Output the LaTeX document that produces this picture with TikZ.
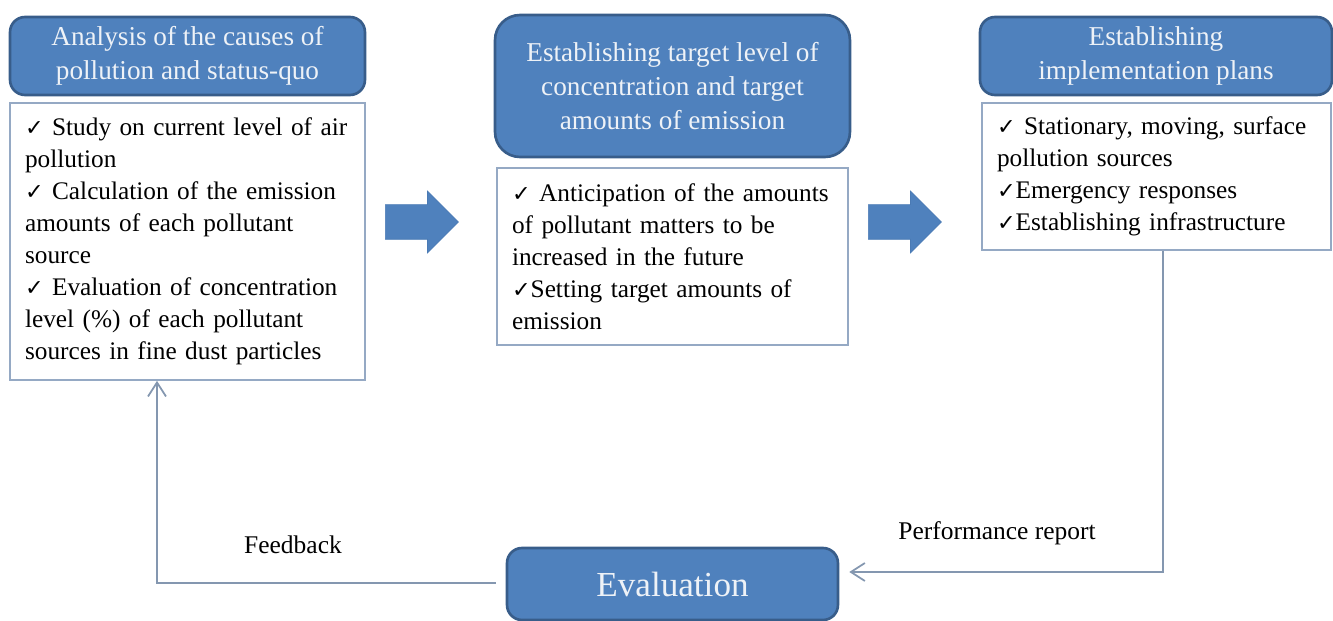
\documentclass[tikz,border=0pt]{standalone}
\usepackage{fontspec}
\setmainfont{Liberation Serif}
\newfontfamily\TickFont{DejaVu Sans}[Scale=0.88]
\usetikzlibrary{shapes.arrows, arrows.meta}
\definecolor{OfficeBlue}{HTML}{4F81BD}
\definecolor{HeadBorder}{HTML}{385D8A}
\definecolor{HeadText}{HTML}{EEF2F7}
\definecolor{ArrowBorder}{HTML}{4A7AB4}
\definecolor{BoxBorder}{HTML}{95A9C4}
\definecolor{LinkGray}{HTML}{8497B0}
\NewDocumentCommand{\Tick}{}{{\TickFont ✓}}

\begin{document}
\begin{tikzpicture}[
    x=0.02cm, y=-0.02cm,% one unit is one pixel of the layout
    >={Straight Barb[length=0.28cm, width=0.36cm]},
    header/.style={draw=HeadBorder, line width=1.5pt, fill=OfficeBlue, rounded corners=0.3cm,
        text=HeadText, align=center, font=\fontsize{15.5}{19.5}\selectfont, inner sep=0pt},
    bodybox/.style={draw=BoxBorder, line width=1pt, fill=white, align=left,
        font=\fontsize{14.4}{18.2}\selectfont, inner xsep=0.3cm, inner ysep=0pt},
    blockarrow/.style={single arrow, fill=OfficeBlue, draw=ArrowBorder, inner xsep=0pt, inner ysep=0.34cm,
        single arrow head extend=0.27cm, minimum height=1.46cm, anchor=west},
    link/.style={draw=LinkGray, line width=1pt},
    label/.style={font=\fontsize{14.5}{17}\selectfont},
    ]
    \useasboundingbox (0,0) rectangle (1333,621);

    % top row
    \node[header, minimum width=7.1cm, minimum height=1.56cm] (analysis) at (187.5,56)
        {Analysis of the causes of\\pollution and status-quo};
    \node[bodybox, text width=6.5cm, minimum height=5.54cm] (analysisbody) at (187.5,241.5)
        {\Tick{} Study on current level of air\\pollution\\
         \Tick{} Calculation of the emission\\amounts of each pollutant\\source\\
         \Tick{} Evaluation of concentration\\level (\%) of each pollutant\\sources in fine dust particles};

    \node[header, rounded corners=0.5cm, minimum width=7.1cm, minimum height=2.84cm] (target) at (672.5,86)
        {Establishing target level of\\concentration and target\\amounts of emission};
    \node[bodybox, text width=6.42cm, minimum height=3.54cm] (targetbody) at (672.5,256.5)
        {\Tick{} Anticipation of the amounts\\of pollutant matters to be\\increased in the future\\
         \Tick{}Setting target amounts of\\emission};

    \node[header, minimum width=7.04cm, minimum height=1.56cm] (plan) at (1156,56)
        {Establishing\\implementation plans};
    \node[bodybox, text width=6.38cm, minimum height=2.94cm] (planbody) at (1156.5,176.5)
        {\Tick{} Stationary, moving, surface\\pollution sources\\
         \Tick{}Emergency responses\\\Tick{}Establishing infrastructure};

    \node[blockarrow] (step1) at (385,222) {};
    \node[blockarrow] (step2) at (868,222) {};

    % bottom loop
    \node[header, font=\fontsize{20}{24}\selectfont, minimum width=6.62cm, minimum height=1.44cm] (eval) at (672.5,584)
        {Evaluation};

    \coordinate (fbcorner) at (157,583);
    \coordinate (prcorner) at (1163,572);
    \draw[link, ->, shorten <=0.2cm] (eval.west |- fbcorner) -- (fbcorner) -- (fbcorner |- analysisbody.south);
    \draw[link, ->, shorten >=0.2cm] (prcorner |- planbody.south) -- (prcorner) -- (eval.east |- prcorner);

    \node[label] (fbtext) at (293,545) {Feedback};
    \node[label] (prtext) at (997,533) {Performance report};

\end{tikzpicture}
\end{document}
